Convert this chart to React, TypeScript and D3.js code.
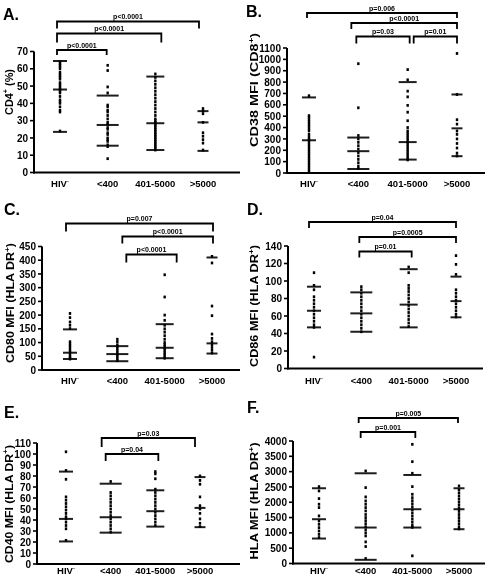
import React from "react";
import * as d3 from "d3";

const FONT = "'Liberation Sans', Arial, Helvetica, sans-serif";

const categories = ["HIV-", "<400", "401-5000", ">5000"];

// ---------- Panel A: CD4+ (%) ----------
const cd4Ticks = [0, 10, 20, 30, 40, 50, 60, 70];
const cd4Dots = [
  [64, 63, 62, 61, 60, 58, 57, 56, 55, 54, 52, 51, 50, 49, 48, 47, 46, 44, 42, 41, 40, 38, 36, 35, 24],
  [62, 59, 49.5, 46, 39, 38, 36, 35, 33, 31, 29, 28, 26, 25, 23, 22, 20, 19, 18, 16, 15, 8],
  [57, 55, 53, 51, 49, 47, 45, 43, 41, 39, 37, 35, 33, 31, 30, 29, 28, 27, 26, 25, 24, 23, 22, 21, 20, 19, 18, 17, 16, 15, 14, 13],
  [37, 35.5, 34, 29, 23, 21, 19, 17, 13],
];
const cd4Lines = [[64.5, 48, 23.5], [44.5, 27.5, 15.5], [55.5, 28.5, 13], [35.5, 29, 12.5]];
const cd4Brackets = [
  { a: 0, b: 1, p: "p<0.0001" },
  { a: 0, b: 2, p: "p<0.0001" },
  { a: 0, b: 3, p: "p<0.0001" },
];

// ---------- Panel B: CD38 MFI (CD8+) ----------
const cd38Ticks = [0, 100, 200, 300, 400, 500, 600, 700, 800, 900, 1000, 1100];
const cd38Dots = [
  [680, 505, 490, 470, 450, 430, 410, 390, 370, 340, 320, 300, 290, 270, 250, 230, 210, 190, 170, 150, 130, 110, 90, 70, 50, 30, 10],
  [962, 574, 330, 300, 270, 240, 210, 180, 150, 120, 90, 60, 40],
  [910, 820, 720, 670, 595, 535, 460, 400, 370, 350, 330, 310, 290, 270, 250, 230, 210, 190, 170, 150, 130, 115],
  [1052, 691, 469, 430, 370, 340, 300, 260, 220, 175, 150],
];
const cd38Lines = [[665, 288], [312, 192, 35], [800, 272, 118], [691, 393, 148]];
const cd38Brackets = [
  { a: 0, b: 3, p: "p=0.006" },
  { a: 1, b: 3, p: "p<0.0001" },
  { a: 1, b: 2, p: "p=0.03" },
  { a: 2, b: 3, p: "p=0.01" },
];

// ---------- Panel C: CD80 MFI (HLA DR+) ----------
const cd80Ticks = [0, 50, 100, 150, 200, 250, 300, 350, 400, 450];
const cd80Dots = [
  [206, 191, 175, 163, 151, 103, 95, 88, 80, 72, 65, 58, 50, 45, 40],
  [112, 103, 92, 85, 78, 70, 62, 55, 48, 40, 34],
  [347, 266, 200, 181, 163, 150, 138, 125, 112, 100, 92, 85, 78, 70, 62, 55, 47, 43],
  [414, 390, 233, 198, 131, 115, 103, 92, 82, 72, 62],
];
const cd80Lines = [[148, 63, 40], [87, 58, 32], [167, 81, 43], [410, 97, 60]];
const cd80Brackets = [
  { a: 0, b: 3, p: "p=0.007" },
  { a: 1, b: 3, p: "p<0.0001" },
  { a: 1, b: 2, p: "p<0.0001" },
];

// ---------- Panel D: CD86 MFI (HLA DR+) ----------
const cd86Ticks = [0, 20, 40, 60, 80, 100, 120, 140];
const cd86Dots = [
  [109.5, 95, 90, 82, 78, 74, 70, 66, 62, 58, 54, 50, 47, 13],
  [93.5, 90, 86, 82, 78, 74, 70, 66, 62, 58, 54, 50, 46, 42],
  [116, 109.5, 95, 91.5, 88, 84, 80, 76, 72, 68, 64, 60, 56, 52, 48],
  [129, 119, 107.5, 90, 86, 82, 78, 74, 70, 66, 62, 59],
];
const cd86Lines = [[93.5, 66, 47], [87, 63, 42], [113.5, 73, 47], [105, 77, 58.5]];
const cd86Brackets = [
  { a: 0, b: 3, p: "p=0.04" },
  { a: 1, b: 3, p: "p=0.0005" },
  { a: 1, b: 2, p: "p=0.01" },
];

// ---------- Panel E: CD40 MFI (HLA DR+) ----------
const cd40Ticks = [0, 10, 20, 30, 40, 50, 60, 70, 80, 90, 100, 110];
const cd40Dots = [
  [102, 85, 77, 61, 58, 55, 52, 49, 46, 43, 41, 38, 35, 32, 21.5],
  [75, 65, 62, 59, 56, 53, 50, 47, 44, 41, 38, 35, 32, 29],
  [84, 82, 77.5, 68, 65, 62, 59, 56, 53, 50, 47, 44, 41, 38, 35],
  [80, 76, 72.5, 61, 53, 50, 46, 41, 37, 34],
];
const cd40Lines = [[84, 41, 20.5], [73, 42.5, 28.5], [67, 48, 34], [79, 51, 33.5]];
const cd40Brackets = [
  { a: 1, b: 3, p: "p=0.03" },
  { a: 1, b: 2, p: "p=0.04" },
];

// ---------- Panel F: HLA MFI (HLA DR+) ----------
const hlaTicks = [0, 500, 1000, 1500, 2000, 2500, 3000, 3500, 4000];
const hlaDots = [
  [2510, 2370, 2120, 1935, 1826, 1554, 1390, 1280, 1170, 1060, 950, 848],
  [3022, 2478, 2174, 2043, 1935, 1826, 1717, 1600, 1500, 1400, 1300, 1200, 1100, 1000, 900, 706, 554, 163],
  [3891, 3326, 2946, 2511, 2260, 2150, 2050, 1950, 1850, 1750, 1650, 1550, 1450, 1350, 1250, 1180, 250],
  [2533, 2400, 2300, 2200, 2100, 2000, 1900, 1800, 1700, 1600, 1500, 1400, 1300, 1200, 1130],
];
const hlaLines = [[2457, 1446, 815], [2946, 1174, 120], [2891, 1772, 1174], [2457, 1772, 1120]];
const hlaBrackets = [
  { a: 1, b: 3, p: "p=0.005" },
  { a: 1, b: 2, p: "p=0.001" },
];

// ---------- layout (positions/styles only) ----------
const capW = [14, 22, 18, 11];

const panels = [
  {
    title: "A.", tX: 3, tY: 20, label: ["CD4", "+", " (%)"], lX: 12.5, lY: 92, lLen: 46,
    axisX: 34, xEnd: 240, yTop: 51.5, yZero: 172.5, c0: 60, c3: 203, catY: 187,
    ticks: cd4Ticks, dots: cd4Dots, lines: cd4Lines, brackets: cd4Brackets,
    bY: [50, 33.5, 21.5], bLeg: [5, 9, 7], bDx: [[-3, -1], [-3, 6], [-3, -4]],
  },
  {
    title: "B.", tX: 246, tY: 17, label: ["CD38 MFI (CD8", "+", ")"], lX: 258, lY: 90, lLen: 114,
    axisX: 287, xEnd: 485, yTop: 48, yZero: 173, c0: 309, c3: 457, catY: 187,
    ticks: cd38Ticks, dots: cd38Dots, lines: cd38Lines, brackets: cd38Brackets,
    bY: [13, 23, 36.5, 36.5], bLeg: [5, 6, 7, 7], bDx: [[-2, 0], [-7, 0], [-2, 2], [6, 0]],
  },
  {
    title: "C.", tX: 4, tY: 215, label: ["CD80 MFI (HLA DR", "+", ")"], lX: 14, lY: 303, lLen: 120,
    axisX: 42, xEnd: 240, yTop: 246.5, yZero: 370, c0: 70, c3: 212, catY: 384,
    ticks: cd80Ticks, dots: cd80Dots, lines: cd80Lines, brackets: cd80Brackets,
    bY: [223.5, 236.5, 254.5], bLeg: [8, 7, 8], bDx: [[-4, 1], [5, 1], [9, 12]],
  },
  {
    title: "D.", tX: 247, tY: 215, label: ["CD86 MFI (HLA DR", "+", ")"], lX: 258, lY: 306, lLen: 122,
    axisX: 288, xEnd: 483, yTop: 246, yZero: 368.5, c0: 314, c3: 456, catY: 384,
    ticks: cd86Ticks, dots: cd86Dots, lines: cd86Lines, brackets: cd86Brackets,
    bY: [222, 237, 251.5], bLeg: [6, 6, 6], bDx: [[-5, 0], [-2, 0], [-2, 3]],
  },
  {
    title: "E.", tX: 4, tY: 418, label: ["CD40 MFI (HLA DR", "+", ")"], lX: 12.5, lY: 504, lLen: 118,
    axisX: 37, xEnd: 240, yTop: 443, yZero: 564, c0: 66, c3: 200, catY: 574,
    ticks: cd40Ticks, dots: cd40Dots, lines: cd40Lines, brackets: cd40Brackets,
    bY: [438, 454], bLeg: [9, 7], bDx: [[-9, -5], [-5, 3]],
  },
  {
    title: "F.", tX: 247, tY: 413, label: ["HLA MFI (HLA DR", "+", ")"], lX: 258, lY: 501, lLen: 117,
    axisX: 293, xEnd: 485, yTop: 441, yZero: 563.5, c0: 319, c3: 459, catY: 574,
    ticks: hlaTicks, dots: hlaDots, lines: hlaLines, brackets: hlaBrackets,
    bY: [418, 432], bLeg: [5, 6], bDx: [[-7, -1], [-5, 3]],
  },
];

function CatLabel({ text, x, y }: { text: string; x: number; y: number }) {
  const isNeg = text.endsWith("-") && text.startsWith("HIV");
  return (
    <text x={x} y={y} textAnchor="middle" fontSize={9.5} fontWeight="bold" fontFamily={FONT} fill="#000">
      {isNeg ? (
        <>
          HIV
          <tspan fontSize={6} dy={-4}>-</tspan>
        </>
      ) : (
        text
      )}
    </text>
  );
}

function Panel({ cfg }: { cfg: any }) {
  const ticks: number[] = cfg.ticks;
  const yMax = ticks[ticks.length - 1];
  const y = d3.scaleLinear().domain([0, yMax]).range([cfg.yZero, cfg.yTop]);
  const x = d3.scalePoint<string>().domain(categories).range([cfg.c0, cfg.c3]);
  const stroke = "#1e1e1e";
  return (
    <g>
      <text x={cfg.tX} y={cfg.tY} fontSize={16} fontWeight="bold" fontFamily={FONT} fill="#000">
        {cfg.title}
      </text>
      <text
        transform={`translate(${cfg.lX},${cfg.lY}) rotate(-90)`}
        textAnchor="middle"
        fontSize={11.5}
        fontWeight="bold"
        fontFamily={FONT}
        fill="#000"
        textLength={cfg.lLen}
        lengthAdjust="spacingAndGlyphs"
      >
        {cfg.label[0]}
        <tspan fontSize={7.5} dy={-4.5}>{cfg.label[1]}</tspan>
        <tspan dy={4.5}>{cfg.label[2]}</tspan>
      </text>
      {/* y axis */}
      <line x1={cfg.axisX} x2={cfg.axisX} y1={y(0) + 1} y2={y(yMax)} stroke="#000" strokeWidth={2} />
      {ticks.map((t) => (
        <g key={t}>
          <line x1={cfg.axisX - 4} x2={cfg.axisX} y1={y(t)} y2={y(t)} stroke="#000" strokeWidth={1.6} />
          <text
            x={cfg.axisX - 6}
            y={y(t)}
            dy="0.36em"
            textAnchor="end"
            fontSize={10}
            fontWeight="bold"
            fontFamily={FONT}
            fill="#000"
          >
            {t}
          </text>
        </g>
      ))}
      {/* x axis */}
      <line x1={cfg.axisX - 1} x2={cfg.xEnd} y1={y(0)} y2={y(0)} stroke="#000" strokeWidth={2} />
      {categories.map((c) => (
        <CatLabel key={c} text={c} x={x(c)!} y={cfg.catY} />
      ))}
      {/* summary lines */}
      {cfg.lines.map((vals: number[], i: number) =>
        vals.map((v, j) => (
          <line
            key={`l${i}-${j}`}
            x1={x(categories[i])! - capW[i] / 2}
            x2={x(categories[i])! + capW[i] / 2}
            y1={y(v)}
            y2={y(v)}
            stroke={stroke}
            strokeWidth={2}
          />
        ))
      )}
      {/* dots */}
      {cfg.dots.map((vals: number[], i: number) =>
        vals.map((v, j) => (
          <rect key={`d${i}-${j}`} x={x(categories[i])! - 1.2} y={y(v) - 1.4} width={2.4} height={2.8} fill="#000" />
        ))
      )}
      {/* brackets */}
      {cfg.brackets.map((b: any, k: number) => {
        const xa = x(categories[b.a])! + cfg.bDx[k][0];
        const xb = x(categories[b.b])! + cfg.bDx[k][1];
        const by = cfg.bY[k];
        const leg = cfg.bLeg[k];
        return (
          <g key={`b${k}`}>
            <path
              d={`M${xa},${by + leg}V${by}H${xb}V${by + leg}`}
              fill="none"
              stroke="#000"
              strokeWidth={1.8}
            />
            <text
              x={(xa + xb) / 2}
              y={by - 2.5}
              textAnchor="middle"
              fontSize={7}
              fontWeight="bold"
              fontFamily={FONT}
              fill="#000"
            >
              {b.p}
            </text>
          </g>
        );
      })}
    </g>
  );
}

export default function App() {
  return (
    <svg
      width={491}
      height={580}
      viewBox="0 0 491 580"
      style={{ position: "absolute", left: 0, top: 0, background: "#fff", willChange: "transform" }}
    >
      <rect width={491} height={580} fill="#fff" />
      {panels.map((p) => (
        <Panel key={p.title} cfg={p} />
      ))}
    </svg>
  );
}
